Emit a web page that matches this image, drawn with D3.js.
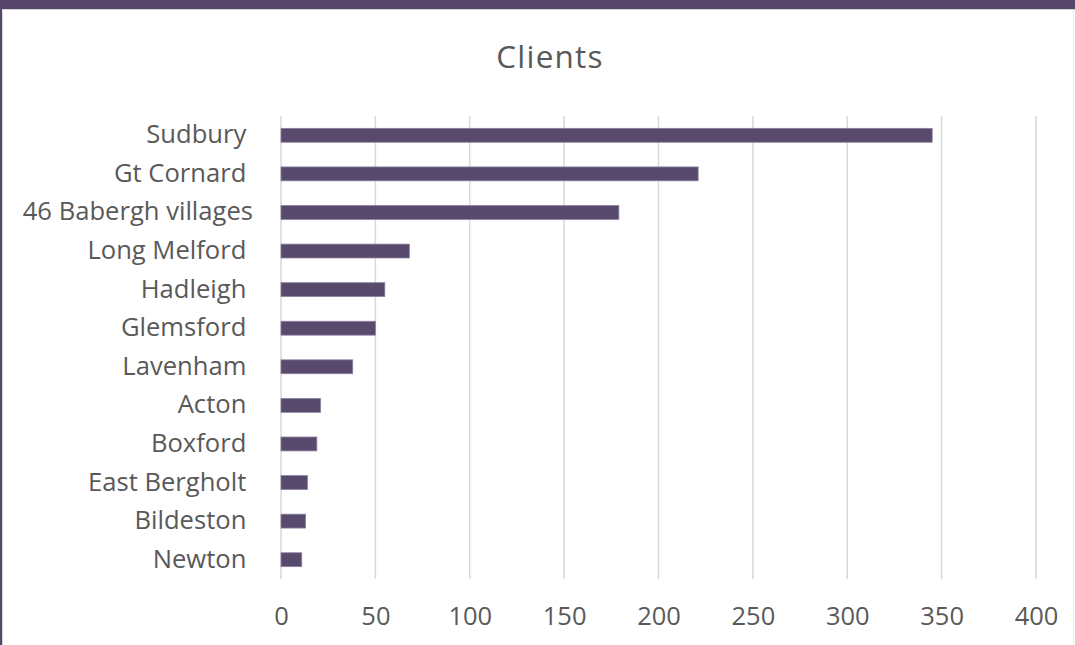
<!DOCTYPE html>
<html>
<head>
<meta charset="utf-8">
<script src="https://cdn.jsdelivr.net/npm/d3@7"></script>
<style>
  html, body { margin: 0; padding: 0; background: #ffffff; }
  svg { display: block; }
  text { font-family: "Open Sans", "Noto Sans", sans-serif; fill: #595959; white-space: pre; }
</style>
</head>
<body>
<svg id="chart" width="1075" height="645"></svg>
<script>
const title = "Clients";
const categories = ["Sudbury ", "Gt Cornard ", "46 Babergh villages", "Long Melford ", "Hadleigh ",
  "Glemsford ", "Lavenham ", "Acton ", "Boxford ", "East Bergholt ", "Bildeston ", "Newton "];
const clients = [345, 221, 179, 68, 55, 50, 38, 21, 19, 14, 13, 11];
const xTicks = [0, 50, 100, 150, 200, 250, 300, 350, 400];

const W = 1075, H = 645;
const svg = d3.select("#chart");

// frame
svg.append("rect").attr("x", 0).attr("y", 0).attr("width", W).attr("height", H).attr("fill", "#ffffff");
svg.append("rect").attr("x", 0).attr("y", 0).attr("width", W).attr("height", 9).attr("fill", "#56476b");
svg.append("rect").attr("x", 0).attr("y", 0).attr("width", 2).attr("height", H).attr("fill", "#56476b");
svg.append("line").attr("x1", 2).attr("x2", W).attr("y1", 9.5).attr("y2", 9.5).attr("stroke", "#d4d2d8").attr("stroke-width", 1);
svg.append("line").attr("x1", 2.5).attr("x2", 2.5).attr("y1", 10).attr("y2", H).attr("stroke", "#d8d8d8").attr("stroke-width", 1);
svg.append("line").attr("x1", 1073.5).attr("x2", 1073.5).attr("y1", 10).attr("y2", H).attr("stroke", "#eeeeee").attr("stroke-width", 1);

const x = d3.scaleLinear().domain([0, 400]).range([281, 1036]);
const y = d3.scaleBand().domain(categories).range([116, 579]).paddingInner(0.64).paddingOuter(0.32);

// gridlines
svg.append("g").selectAll("line").data(xTicks).join("line")
  .attr("x1", d => x(d)).attr("x2", d => x(d))
  .attr("y1", 116).attr("y2", 579)
  .attr("stroke", "#d9d9d9").attr("stroke-width", 1.5);

// bars
svg.append("g").selectAll("rect").data(categories).join("rect")
  .attr("x", x(0))
  .attr("y", d => y(d))
  .attr("width", (d, i) => x(clients[i]) - x(0))
  .attr("height", y.bandwidth())
  .attr("fill", "#574a6d")
  .attr("stroke", "#8b80a0").attr("stroke-width", 0.8);

// category labels
svg.append("g").selectAll("text").data(categories).join("text")
  .attr("x", 253)
  .attr("y", d => y(d) + y.bandwidth() / 2 - 1)
  .attr("dy", "0.35em")
  .attr("text-anchor", "end")
  .attr("xml:space", "preserve")
  .style("font-size", "25.6px")
  .text(d => d);

// x axis labels
const xAxis = d3.axisBottom(x).tickValues(xTicks).tickSize(0).tickPadding(0);
const gx = svg.append("g").attr("transform", "translate(0,606)").call(xAxis);
gx.select(".domain").remove();
gx.selectAll("text").style("font-size", "25.5px").style("font-family", "'Open Sans', sans-serif").attr("fill", "#595959").attr("dy", "0.75em");

// title
svg.append("text").attr("x", 550).attr("y", 68).attr("text-anchor", "middle")
  .style("font-size", "31.5px").style("letter-spacing", "1.2px").text(title);
</script>
</body>
</html>
